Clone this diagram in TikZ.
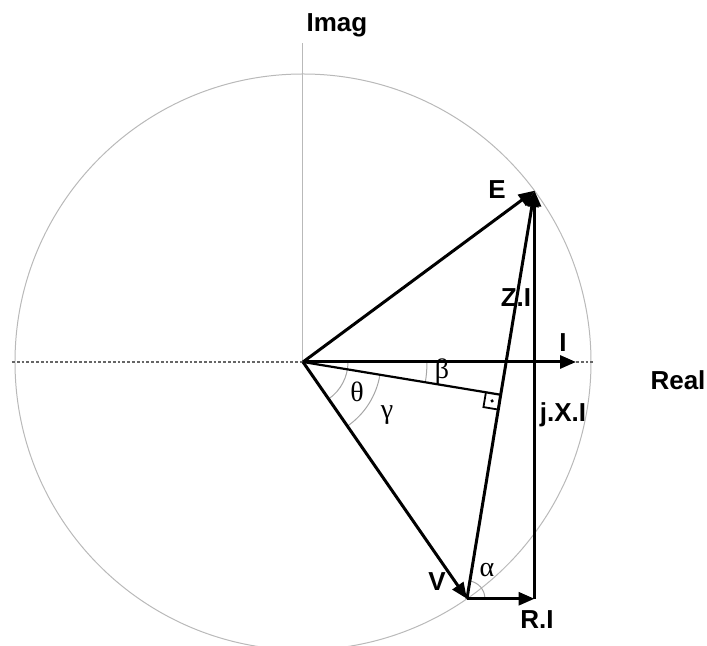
\documentclass[tikz,border=0pt]{standalone}
\usepackage{fontspec}
\setmainfont{Liberation Sans}
\newfontfamily\grk{Liberation Serif}
\usetikzlibrary{positioning, arrows.meta, calc}

\begin{document}
\begin{tikzpicture}[x=0.5pt, y=0.5pt]
	\tikzset{
		phasor/.style={line width=1.5pt, -{Triangle[length=8pt, width=6.5pt]}},
		axis/.style={gray!55, line width=0.5pt},
		dotaxis/.style={gray!80!black, line width=0.7pt, dash pattern=on 1.4pt off 1pt},
		angarc/.style={gray!70, line width=0.5pt},
		lbl/.style={font=\bfseries\fontsize{13}{15}\selectfont, inner sep=1pt},
		glbl/.style={font=\grk\fontsize{14}{16}\selectfont, inner sep=1pt}
	}
	\useasboundingbox (-303,-284) rectangle (404,362);
	% points of the diagram
	\coordinate (O) at (0,0);
	\coordinate (E) at (36.5:288);
	\coordinate (V) at (-55.3:288);
	\coordinate (R) at (E |- V);
	\coordinate (F) at ($(V)!(O)!(E)$);
	\coordinate (I) at (273,0);
	\coordinate (axL) at (-291,0);
	\coordinate (axR) at (290,0);
	\coordinate (axT) at (0,319);
	% circle and axes
	\draw[axis] (O) circle (288);
	\draw[axis] (O) -- (axT);
	\draw[dotaxis] (axL) -- (O);
	\draw[dotaxis] (I) -- (axR);
	% angles
	\draw[angarc] (O) ++(0:45) arc (0:-55.3:45);
	\draw[angarc] (O) ++(-9.4:78) arc (-9.4:-55.3:78);
	\draw[angarc] (O) ++(0:124) arc (0:-9.4:124);
	\draw[angarc] (V) ++(0:18) arc (0:80.6:18);
	% right angle at F
	\begin{scope}[shift={(F)}, rotate=-9.4]
		\draw[line width=0.9pt] (-15,0) -- (-15,-15) -- (0,-15);
		\fill (-7.5,-7.5) circle (1.8);
	\end{scope}
	% phasors
	\draw[line width=1.1pt] (O) -- (F);
	\draw[phasor] (O) -- (I);
	\draw[phasor] (O) -- (E);
	\draw[phasor] (O) -- (V);
	\draw[phasor] (V) -- (R);
	\draw[phasor] (R) -- (E);
	\draw[phasor] (V) -- (E);
	% labels
	\node[lbl] (lImag) at (34,337) {Imag};
	\node[lbl] (lReal) at (375,-18) {Real};
	\node[lbl] (lE) at (194,172) {E};
	\node[lbl] (lZI) at (213,64) {Z.I};
	\node[lbl] (lI) at (260,19) {I};
	\node[lbl] (lJXI) at (260,-53) {j.X.I};
	\node[lbl] (lV) at (134,-220) {V};
	\node[lbl] (lRI) at (234,-258) {R.I};
	\node[glbl] (lbeta) at (139,-10) {β};
	\node[glbl] (ltheta) at (54,-30) {θ};
	\node[glbl] (lgamma) at (84,-53) {γ};
	\node[glbl] (lalpha) at (184,-208) {α};
\end{tikzpicture}
\end{document}
